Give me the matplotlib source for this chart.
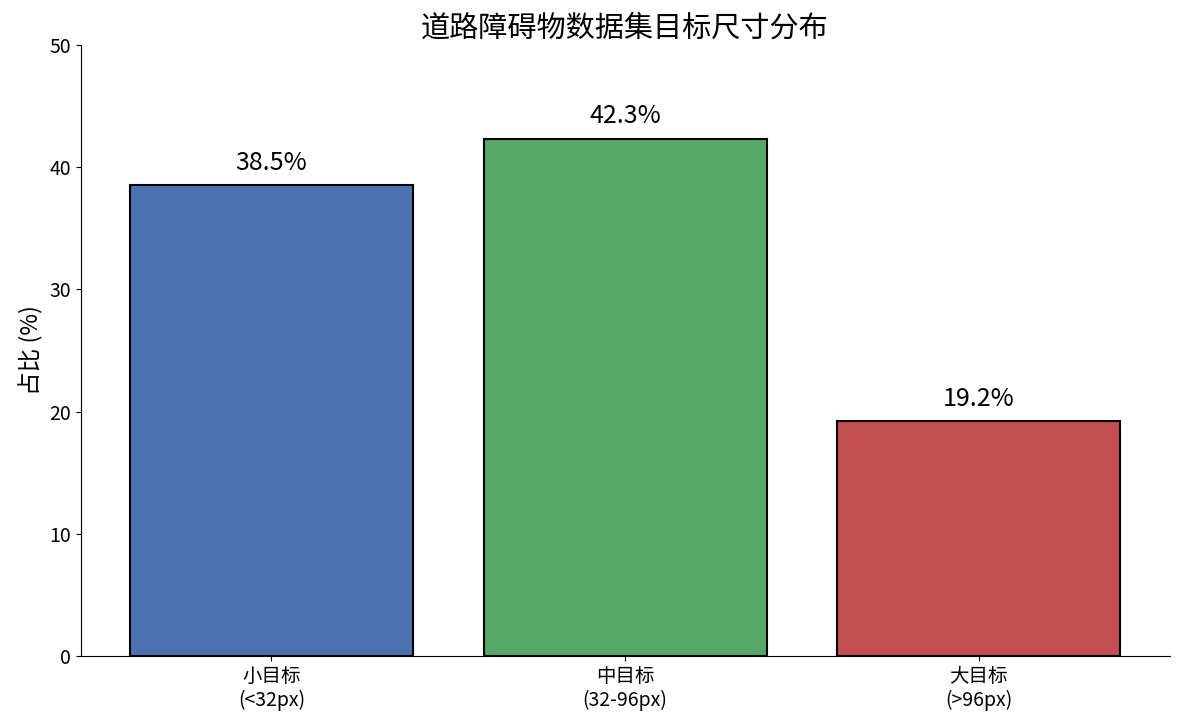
import matplotlib
matplotlib.use("Agg")
import matplotlib.pyplot as plt

plt.rcParams["font.family"] = ["Noto Sans CJK SC", "DejaVu Sans"]
plt.rcParams["axes.unicode_minus"] = False

categories = ["小目标\n(<32px)", "中目标\n(32-96px)", "大目标\n(>96px)"]
shares = [38.5, 42.3, 19.2]
colors = ["#4C72B0", "#55A868", "#C44E52"]

fig, ax = plt.subplots(figsize=(11.84, 7.21), dpi=100)
bars = ax.bar(categories, shares, width=0.8, color=colors, edgecolor="black", linewidth=1.5)
for b, v in zip(bars, shares):
    ax.text(b.get_x() + b.get_width() / 2, v + 0.8, f"{v}%", ha="center", va="bottom", fontsize=18)

ax.set_ylim(0, 50)
ax.set_ylabel("占比 (%)", fontsize=17)
ax.set_title("道路障碍物数据集目标尺寸分布", fontsize=21)
ax.tick_params(labelsize=14)
ax.spines["top"].set_visible(False)
ax.spines["right"].set_visible(False)
fig.subplots_adjust(left=0.068, right=0.988, top=0.938, bottom=0.09)
fig.savefig("out.png", dpi=100)
